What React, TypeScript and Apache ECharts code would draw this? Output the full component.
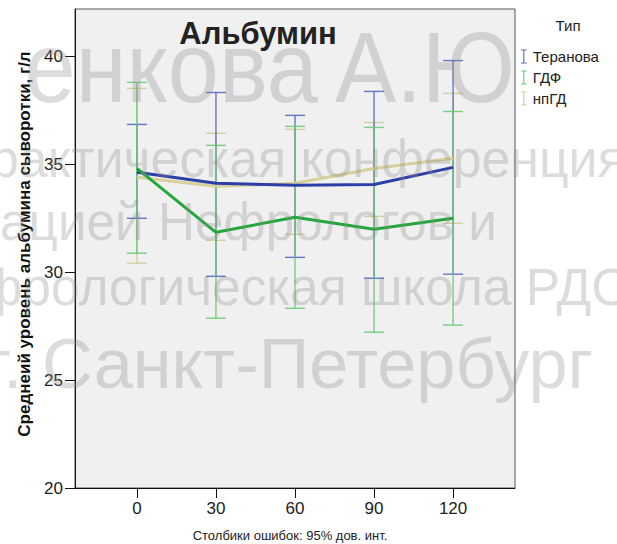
import React, { useEffect, useRef } from "react";
import * as echarts from "echarts";

const times = [0, 30, 60, 90, 120];
const xTicks = [0, 30, 60, 90, 120];
const yTicks = [20, 25, 30, 35, 40];

const seriesNames = ["Теранова", "ГДФ", "нпГД"];

const teranovaMean = [34.63, 34.12, 34.03, 34.07, 34.86];
const teranovaLow = [32.5, 29.81, 30.69, 29.72, 29.91];
const teranovaHigh = [36.85, 38.33, 37.27, 38.38, 39.81];

const gdfMean = [34.81, 31.85, 32.55, 31.99, 32.5];
const gdfLow = [30.88, 27.87, 28.33, 27.22, 27.55];
const gdfHigh = [38.8, 35.88, 36.76, 36.71, 37.45];

const npgdMean = [34.4, 33.98, 34.12, 34.81, 35.28];
const npgdLow = [30.42, 31.48, 31.76, 32.59, 32.27];
const npgdHigh = [38.52, 36.44, 36.62, 36.94, 38.29];

const watermarkLines = [
  "енкова",
  "А.Ю",
  "рактическая конференция",
  "ацией Нефрологов и",
  "фрологическая школа РДО",
  "г. Санкт-Петербург",
];

const FONT = "'Liberation Sans', Arial, Helvetica, sans-serif";

const lineColors = ["#2c3ea8", "#22a83a", "#d8d09a"];
const errColors = ["#5568c4", "#6acb72", "#d2cc98"];

function errSeries(name: string, low: number[], high: number[], color: string, z: number) {
  return {
    type: "custom",
    name,
    z,
    itemStyle: { color },
    encode: { x: 0, y: [1, 2] },
    data: times.map((t, i) => [t, low[i], high[i]]),
    renderItem: (params: any, api: any) => {
      const x = api.value(0);
      const lo = api.coord([x, api.value(1)]);
      const hi = api.coord([x, api.value(2)]);
      const hw = 10;
      const style = { stroke: color, lineWidth: 1.4, opacity: 0.9 };
      return {
        type: "group",
        children: [
          { type: "line", shape: { x1: lo[0], y1: lo[1], x2: hi[0], y2: hi[1] }, style },
          { type: "line", shape: { x1: lo[0] - hw, y1: lo[1], x2: lo[0] + hw, y2: lo[1] }, style },
          { type: "line", shape: { x1: hi[0] - hw, y1: hi[1], x2: hi[0] + hw, y2: hi[1] }, style },
        ],
      };
    },
  };
}

function meanSeries(name: string, mean: number[], color: string) {
  return {
    type: "line",
    name,
    z: 5,
    symbol: "none",
    showSymbol: false,
    lineStyle: { color, width: 3 },
    itemStyle: { color },
    data: times.map((t, i) => [t, mean[i]]),
  };
}

function wm(text: string, x: number, baseline: number, fs: number, scaleX: number, align: string) {
  return {
    type: "text",
    x,
    y: baseline - 0.3465 * fs,
    scaleX,
    z: 100,
    silent: true,
    style: {
      text,
      font: `${fs}px ${FONT}`,
      fill: "rgba(140,140,140,0.3)",
      align,
      textAlign: align,
      verticalAlign: "middle",
      textVerticalAlign: "middle",
    },
  };
}

const ICON = "path://M0,0H8V1.6H4.8V18.4H8V20H0V18.4H3.2V1.6H0Z";

export default function App() {
  const ref = useRef<HTMLDivElement>(null);
  useEffect(() => {
    if (!ref.current) return;
    const chart = echarts.init(ref.current, null, { renderer: "svg" });
    chart.setOption({
      animation: false,
      backgroundColor: "#ffffff",
      grid: {
        left: 75,
        right: 102,
        top: 9,
        bottom: 56,
        show: true,
        backgroundColor: "#f0f0f0",
        borderColor: "#555",
        borderWidth: 1,
      },
      xAxis: {
        type: "value",
        min: -23.5,
        max: 143.5,
        axisLine: { onZero: false, lineStyle: { color: "#111", width: 1 } },
        axisTick: { customValues: xTicks, length: 10, lineStyle: { color: "#111" } },
        axisLabel: {
          customValues: xTicks,
          fontSize: 17,
          fontFamily: FONT,
          color: "#222",
          margin: 12,
        },
        splitLine: { show: false },
      },
      yAxis: {
        type: "value",
        min: 20,
        max: 42.2,
        axisLine: { show: true, onZero: false, lineStyle: { color: "#111", width: 1 } },
        axisTick: { show: true, customValues: yTicks, length: 10, lineStyle: { color: "#111" } },
        axisLabel: {
          customValues: yTicks,
          fontSize: 17,
          fontFamily: FONT,
          color: "#222",
          margin: 12,
        },
        splitLine: { show: false },
      },
      legend: {
        orient: "vertical",
        left: 521,
        top: 49,
        itemGap: 6,
        itemWidth: 8,
        itemHeight: 14,
        padding: 0,
        selectedMode: false,
        textStyle: { fontSize: 15, fontFamily: FONT, color: "#222" },
        data: seriesNames.map((n, i) => ({ name: n, icon: ICON, itemStyle: { color: errColors[i] } })),
      },
      series: [
        errSeries(seriesNames[2], npgdLow, npgdHigh, errColors[2], 2),
        errSeries(seriesNames[0], teranovaLow, teranovaHigh, errColors[0], 3),
        errSeries(seriesNames[1], gdfLow, gdfHigh, errColors[1], 4),
        meanSeries(seriesNames[2], npgdMean, lineColors[2]),
        meanSeries(seriesNames[0], teranovaMean, lineColors[0]),
        meanSeries(seriesNames[1], gdfMean, lineColors[1]),
      ],
      graphic: [
        {
          type: "text",
          x: 258,
          y: 33,
          z: 50,
          style: {
            text: "Альбумин",
            font: `bold 31px ${FONT}`,
            fill: "#222",
            align: "center",
            textAlign: "center",
            verticalAlign: "middle",
            textVerticalAlign: "middle",
          },
        },
        {
          type: "text",
          x: 24,
          y: 244,
          rotation: Math.PI / 2,
          style: {
            text: "Среднеий уровень альбумина сыворотки, г/л",
            font: `bold 17px ${FONT}`,
            fill: "#111",
            align: "center",
            textAlign: "center",
            verticalAlign: "middle",
            textVerticalAlign: "middle",
          },
        },
        {
          type: "text",
          x: 568,
          y: 25,
          style: {
            text: "Тип",
            font: `15px ${FONT}`,
            fill: "#222",
            align: "center",
            textAlign: "center",
            verticalAlign: "middle",
            textVerticalAlign: "middle",
          },
        },
        {
          type: "text",
          x: 290,
          y: 535,
          style: {
            text: "Столбики ошибок: 95% дов. инт.",
            font: `13px ${FONT}`,
            fill: "#222",
            align: "center",
            textAlign: "center",
            verticalAlign: "middle",
            textVerticalAlign: "middle",
          },
        },
        wm(watermarkLines[0], 318, 102, 100, 0.92, "right"),
        wm(watermarkLines[1], 335, 102, 100, 0.92, "left"),
        wm(watermarkLines[2], -10, 177, 54, 0.96, "left"),
        wm(watermarkLines[3], 0, 240, 54, 0.95, "left"),
        wm(watermarkLines[4], -20, 305, 52, 0.99, "left"),
        wm(watermarkLines[5], -14, 388, 71, 0.99, "left"),
      ],
    });
    return () => chart.dispose();
  }, []);
  return (
    <div
      ref={ref}
      style={{ position: "fixed", left: 0, top: 0, width: 617, height: 544, background: "#fff" }}
    />
  );
}
